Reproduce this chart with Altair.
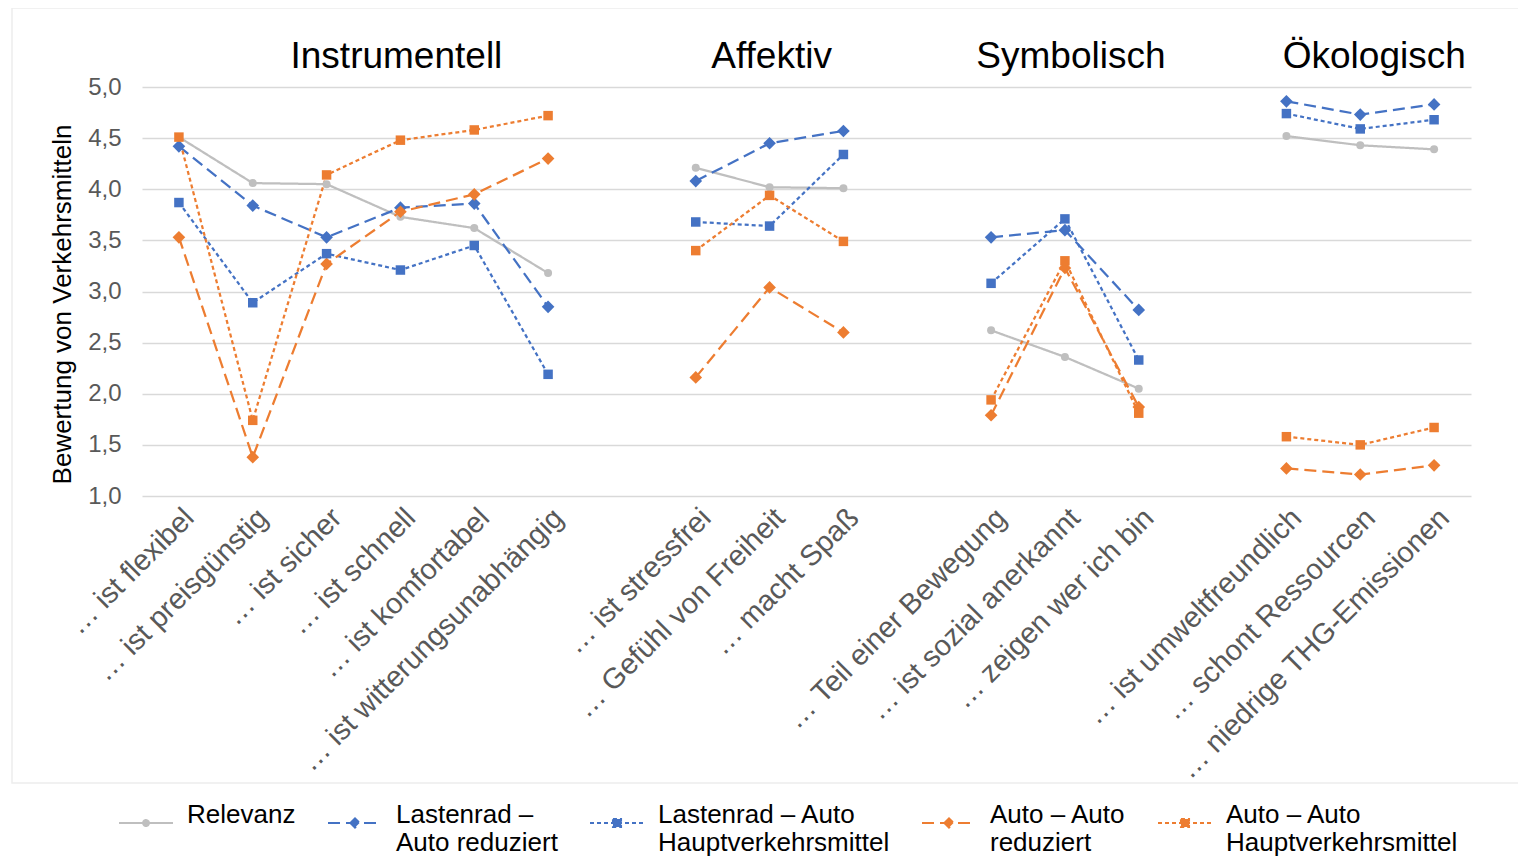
import altair as alt
import pandas as pd

FONT = "Liberation Sans"

# ---- data ----
items = [
    "… ist flexibel", "… ist preisgünstig", "… ist sicher", "… ist schnell",
    "… ist komfortabel", "… ist witterungsunabhängig",
    "… ist stressfrei", "… Gefühl von Freiheit", "… macht Spaß",
    "… Teil einer Bewegung", "… ist sozial anerkannt", "… zeigen wer ich bin",
    "… ist umweltfreundlich", "… schont Ressourcen", "… niedrige THG-Emissionen",
]
groups = (["Instrumentell"] * 6 + ["Affektiv"] * 3 + ["Symbolisch"] * 3
          + ["Ökologisch"] * 3)
# empty slots between the groups
x_domain = items[0:6] + [" "] + items[6:9] + ["  "] + items[9:12] + ["   "] + items[12:15]

series_names = [
    "Relevanz",
    "Lastenrad – Auto reduziert",
    "Lastenrad – Auto Hauptverkehrsmittel",
    "Auto – Auto reduziert",
    "Auto – Auto Hauptverkehrsmittel",
]
relevanz = [4.51, 4.06, 4.05, 3.73, 3.62, 3.18, 4.21, 4.02, 4.01, 2.62, 2.36, 2.05, 4.52, 4.43, 4.39]
lr_reduziert = [4.42, 3.84, 3.53, 3.82, 3.86, 2.85, 4.08, 4.45, 4.57, 3.53, 3.60, 2.82, 4.86, 4.73, 4.83]
lr_haupt = [3.87, 2.89, 3.37, 3.21, 3.45, 2.19, 3.68, 3.64, 4.34, 3.08, 3.71, 2.33, 4.74, 4.59, 4.68]
aa_reduziert = [3.53, 1.38, 3.27, 3.78, 3.95, 4.30, 2.16, 3.04, 2.60, 1.79, 3.23, 1.87, 1.27, 1.21, 1.30]
aa_haupt = [4.51, 1.74, 4.14, 4.48, 4.58, 4.72, 3.40, 3.94, 3.49, 1.94, 3.30, 1.81, 1.58, 1.50, 1.67]
series_values = [relevanz, lr_reduziert, lr_haupt, aa_reduziert, aa_haupt]

legend_lines = [
    ["Relevanz", ""],
    ["Lastenrad –", "Auto reduziert"],
    ["Lastenrad – Auto", "Hauptverkehrsmittel"],
    ["Auto – Auto", "reduziert"],
    ["Auto – Auto", "Hauptverkehrsmittel"],
]

group_titles = ["Instrumentell", "Affektiv", "Symbolisch", "Ökologisch"]
group_anchor = ["… ist schnell", "… Gefühl von Freiheit", "… ist sozial anerkannt", "… schont Ressourcen"]
y_ticks = [1.0, 1.5, 2.0, 2.5, 3.0, 3.5, 4.0, 4.5, 5.0]

# ---- styles ----
colors = ["#BFBFBF", "#4472C4", "#4472C4", "#ED7D31", "#ED7D31"]
dashes = [[1, 0], [12, 6], [4, 3], [12, 6], [4, 3]]
seg = "M-1,0L1,0"
leg_circle = seg + "M-0.11,0A0.11,0.11,0,1,0,0.11,0A0.11,0.11,0,1,0,-0.11,0Z"
leg_diamond = seg + "M-0.17,0L0,-0.17L0.17,0L0,0.17Z"
leg_square = seg + "M-0.15,-0.15L0.15,-0.15L0.15,0.15L-0.15,0.15Z"
leg_shapes = [leg_circle, leg_diamond, leg_square, leg_diamond, leg_square]
title_dx = [-4, 2, 6, 14]

rows = []
for s, vals in zip(series_names, series_values):
    for i, (it, g, v) in enumerate(zip(items, groups, vals)):
        rows.append({"item": it, "group": g, "series": s, "value": v, "idx": i})
df = pd.DataFrame(rows)

label_expr = "datum.label"
for name, lines in reversed(list(zip(series_names, legend_lines))):
    if len(lines) > 1:
        arr = "[" + ",".join("'" + l + "'" for l in lines) + "]"
        label_expr = f"datum.label === '{name}' ? {arr} : ({label_expr})"

legend = alt.Legend(
    title=None, orient="none", legendX=-24, legendY=708, direction="horizontal",
    columns=5, columnPadding=28, symbolSize=2916, symbolStrokeWidth=2,
    labelFontSize=26, labelFont=FONT, labelColor="black", labelLimit=600,
    labelOffset=13, labelBaseline="alphabetic", labelExpr=label_expr,
)

color = alt.Color("series:N", scale=alt.Scale(domain=series_names, range=colors), legend=legend)
dash = alt.StrokeDash("series:N", scale=alt.Scale(domain=series_names, range=dashes), legend=legend)

x = alt.X("item:N", scale=alt.Scale(domain=x_domain, padding=0.5),
          axis=alt.Axis(title=None, labelAngle=315, labelFontSize=29, labelFont=FONT,
                        labelColor="#595959", labelLimit=1000, labelPadding=7,
                        domain=False, ticks=False, grid=False, labelOverlap=False))
y = alt.Y("value:Q", scale=alt.Scale(domain=[1, 5], nice=False, zero=False),
          axis=alt.Axis(values=y_ticks,
                        labelExpr="replace(format(datum.value, '.1f'), '.', ',')",
                        labelFontSize=24, labelFont=FONT, labelColor="#595959",
                        labelPadding=21, domain=False, ticks=False,
                        gridColor="#D9D9D9", gridWidth=1.5,
                        title="Bewertung von Verkehrsmitteln", titleFontSize=26,
                        titleFont=FONT, titleColor="black", titleFontWeight="normal",
                        titlePadding=12, titleY=217))

base = alt.Chart(df)

# faint chart-area border (as in the reference)
frame = alt.Chart(pd.DataFrame({"k": [0]})).mark_rect(
    filled=False, stroke="#EDEDED", strokeWidth=1.5
).encode(x=alt.value(-130), x2=alt.value(1400), y=alt.value(-79), y2=alt.value(696))

legend_dummy = base.mark_point(filled=True, opacity=1).encode(
    x=x, y=y, color=color, strokeDash=dash,
    shape=alt.Shape("series:N", scale=alt.Scale(domain=series_names, range=leg_shapes), legend=legend),
).transform_filter("false")

lines = base.mark_line(strokeWidth=2.25).encode(
    x=x, y=y, color=color, strokeDash=dash, detail="group:N", order="idx:Q"
)

circles = base.mark_point(shape="circle", filled=True, size=64, opacity=1).encode(
    x=x, y=y, color=color).transform_filter(alt.datum.series == series_names[0])
diamonds = base.mark_point(shape="diamond", filled=True, size=160, opacity=1).encode(
    x=x, y=y, color=color).transform_filter(
    alt.FieldOneOfPredicate(field="series", oneOf=[series_names[1], series_names[3]]))
squares = base.mark_point(shape="square", filled=True, size=90, opacity=1).encode(
    x=x, y=y, color=color).transform_filter(
    alt.FieldOneOfPredicate(field="series", oneOf=[series_names[2], series_names[4]]))

title_df = pd.DataFrame({"title": group_titles, "item": group_anchor})
title_layers = []
for t, dx in zip(group_titles, title_dx):
    title_layers.append(
        alt.Chart(title_df).mark_text(fontSize=37, font=FONT, color="black",
                                      baseline="alphabetic", align="center", dx=dx)
        .encode(x=alt.X("item:N", scale=alt.Scale(domain=x_domain, padding=0.5)),
                y=alt.value(-19), text="title:N")
        .transform_filter(alt.datum.title == t)
    )

chart = alt.layer(frame, legend_dummy, lines, circles, diamonds, squares, *title_layers).properties(
    width=1329, height=409,
    autosize=alt.AutoSizeParams(type="none"),
    padding={"left": 134, "top": 79, "right": 47, "bottom": 365},
).configure_view(stroke=None)

chart.save("out.html", embed_options={"renderer": "svg", "actions": False})
